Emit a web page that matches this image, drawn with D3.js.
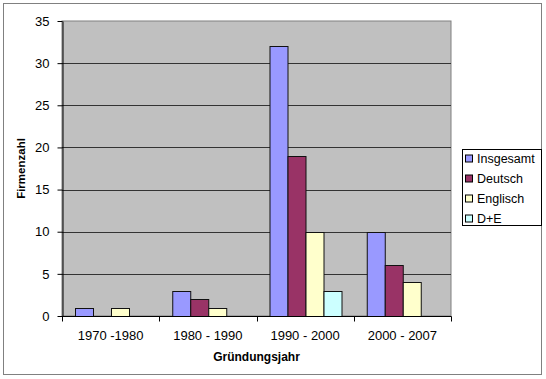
<!DOCTYPE html>
<html>
<head>
<meta charset="utf-8">
<script src="https://cdn.jsdelivr.net/npm/d3@7"></script>
<style>
  body { margin: 0; background: #fff; }
  text { font-family: "Liberation Sans", Arial, sans-serif; }
</style>
</head>
<body>
<div id="chart"></div>
<script>
// data
const categories = ["1970 -1980", "1980 - 1990", "1990 - 2000", "2000 - 2007"];
const series = ["Insgesamt", "Deutsch", "Englisch", "D+E"];
const insgesamt = [1, 3, 32, 10];
const deutsch = [0, 2, 19, 6];
const englisch = [1, 1, 10, 4];
const de = [0, 0, 3, 0];
const yTicks = [0, 5, 10, 15, 20, 25, 30, 35];
const colors = ["#9999FF", "#993366", "#FFFFCC", "#CCFFFF"];

const values = [insgesamt, deutsch, englisch, de];

const W = 546, H = 379;
const plot = { left: 62, top: 21, right: 451, bottom: 316 };

const svg = d3.select("#chart").append("svg")
  .attr("width", W).attr("height", H);

// outer chart frame
svg.append("rect").attr("x", 3.5).attr("y", 3.5)
  .attr("width", 538).attr("height", 371)
  .attr("fill", "#fff").attr("stroke", "#808080");

const y = d3.scaleLinear().domain([0, 35]).range([plot.bottom, plot.top]);
const x0 = d3.scaleBand().domain(categories).range([plot.left, plot.right]).padding(0);
const bw = x0.bandwidth();
const x1 = d3.scaleBand().domain(series).range([bw * 0.13, bw * 0.87]).padding(0);

// plot area
svg.append("rect").attr("x", plot.left).attr("y", plot.top)
  .attr("width", plot.right - plot.left).attr("height", plot.bottom - plot.top)
  .attr("fill", "#C0C0C0").attr("stroke", "#808080");

// gridlines
svg.append("g").selectAll("line")
  .data(yTicks.filter(d => d > 0 && d < 35))
  .enter().append("line")
  .attr("x1", plot.left).attr("x2", plot.right)
  .attr("y1", d => Math.round(y(d)) + 0.5).attr("y2", d => Math.round(y(d)) + 0.5)
  .attr("stroke", "#333");

// bars
const groups = svg.append("g").selectAll("g")
  .data(categories).enter().append("g")
  .attr("transform", d => `translate(${x0(d)},0)`);

groups.selectAll("rect")
  .data((c, ci) => series.map((s, si) => ({ s, si, v: values[si][ci] })).filter(d => d.v > 0))
  .enter().append("rect")
  .attr("x", d => Math.round(x1(d.s)) + 0.5)
  .attr("width", Math.round(x1.bandwidth()))
  .attr("y", d => Math.round(y(d.v)) + 0.5)
  .attr("height", d => Math.round(y(0)) - Math.round(y(d.v)))
  .attr("fill", d => colors[d.si])
  .attr("stroke", "#111").attr("stroke-width", 1);

// y axis
const yAxis = svg.append("g")
  .attr("transform", `translate(${plot.left + 0.5},0)`)
  .call(d3.axisLeft(y).tickValues(yTicks).tickSize(5).tickPadding(8).tickSizeOuter(0));
yAxis.select(".domain").attr("stroke", "#000");
yAxis.selectAll(".tick line").attr("stroke", "#000");
yAxis.selectAll("text").attr("font-size", 13).attr("fill", "#000")
  .style("font-family", "Liberation Sans, Arial, sans-serif");

// x axis with ticks on category boundaries
const xAxis = svg.append("g")
  .attr("transform", `translate(0,${plot.bottom + 0.5})`);
xAxis.append("line").attr("x1", plot.left).attr("x2", plot.right + 0.5)
  .attr("stroke", "#000");
xAxis.selectAll("line.tk")
  .data(categories.map(c => x0(c)).concat([plot.right]))
  .enter().append("line").attr("class", "tk")
  .attr("x1", d => Math.round(d) + 0.5).attr("x2", d => Math.round(d) + 0.5)
  .attr("y1", 0).attr("y2", 5).attr("stroke", "#000");
xAxis.selectAll("text")
  .data(categories).enter().append("text")
  .attr("x", d => x0(d) + bw / 2).attr("y", 23)
  .attr("text-anchor", "middle").attr("font-size", 13).attr("fill", "#000")
  .text(d => d);

// axis titles
svg.append("text")
  .attr("x", (plot.left + plot.right) / 2).attr("y", 361)
  .attr("text-anchor", "middle").attr("font-size", 12).attr("font-weight", "bold")
  .text("Gründungsjahr");
svg.append("text")
  .attr("transform", `translate(25,${(plot.top + plot.bottom) / 2}) rotate(-90)`)
  .attr("text-anchor", "middle").attr("font-size", 11.5).attr("font-weight", "bold")
  .text("Firmenzahl");

// legend
const lg = svg.append("g").attr("transform", "translate(462,149)");
lg.append("rect").attr("x", 0.5).attr("y", 0.5).attr("width", 79).attr("height", 76)
  .attr("fill", "#fff").attr("stroke", "#000");
const items = lg.selectAll("g.item").data(series).enter().append("g")
  .attr("transform", (d, i) => `translate(0,${9.5 + i * 20})`);
items.append("rect").attr("x", 3.5).attr("y", -3.5).attr("width", 7).attr("height", 7)
  .attr("fill", (d, i) => colors[i]).attr("stroke", "#000");
items.append("text").attr("x", 15).attr("y", 4.5)
  .attr("font-size", 12.5).attr("fill", "#000").text(d => d);
</script>
</body>
</html>
